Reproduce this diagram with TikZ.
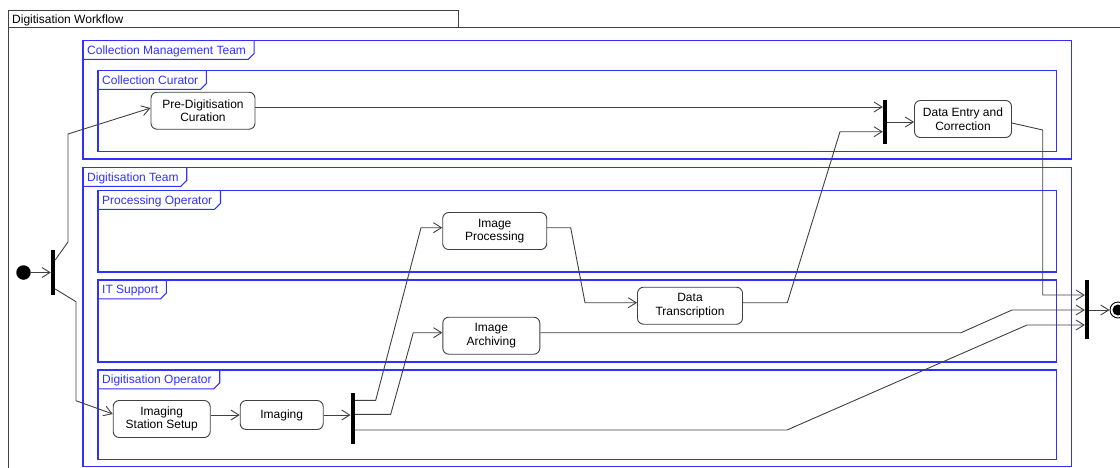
\documentclass[tikz,border=0pt]{standalone}
\usepackage{fontspec}
\setmainfont{Liberation Sans}
\usepackage{tikz}
\usetikzlibrary{arrows.meta}
\definecolor{wflane}{HTML}{3030FF}
\definecolor{wfline}{HTML}{404040}

\begin{document}
\begin{tikzpicture}[x=1pt,y=-1pt,
  every node/.style={font=\fontsize{12}{13.5}\selectfont},
  action/.style={draw=wfline,fill=white,rounded corners=6pt,align=center,minimum height=37pt,inner sep=2pt,line width=0.9pt},
  bar/.style={fill=black,inner sep=0pt,minimum width=4pt},
  flow/.style={draw=wfline,line width=0.9pt,-{Straight Barb[length=8pt,width=10pt]}},
  frame/.style={draw=wfline,line width=0.9pt},
  lane/.style={draw=wflane,line width=1.1pt},
  lanetag/.style={text=wflane,anchor=north west,inner xsep=4pt,inner ysep=0pt,text depth=0pt,minimum height=18.5pt}]
\useasboundingbox (0,0) rectangle (1120,467);
\clip (0,0) rectangle (1120,467);

% outer frame
\draw[frame] (8,10) rectangle (458,27);
\draw[frame] (8,27) -- (8,490) (458,27) -- (1200,27);
\node[anchor=north west,inner xsep=4pt,inner ysep=0pt,text depth=0pt,minimum height=17pt] (wftag) at (8,10) {Digitisation Workflow};

% partitions
\foreach \xa/\ya/\xb/\yb/\lbl [count=\i] in {
    83/40.5/1071.5/159/Collection Management Team,
    98/70.5/1056.5/151.5/Collection Curator,
    83/167.5/1071.5/466.5/Digitisation Team,
    98/190.5/1056.5/272/Processing Operator,
    98/280/1056.5/362/IT Support,
    98/370/1056.5/459.5/Digitisation Operator}{
  \draw[lane] (\xa,\ya) rectangle (\xb,\yb);
  \node[lanetag] (tag\i) at (\xa,\ya) {\lbl};
  \draw[lane] (tag\i.south west) -- ([xshift=-2pt]tag\i.south east)
    -- ([xshift=4pt,yshift=6pt]tag\i.south east) -- ([xshift=4pt]tag\i.north east);
}

% nodes
\node[circle,fill=black,minimum size=14.5pt,inner sep=0pt] (init) at (23.5,272.5) {};
\node[bar,minimum height=45pt] (fork1) at (53,272.5) {};
\node[action,minimum width=104pt] (pdc) at (203,110.7) {Pre-Digitisation\\Curation};
\node[bar,minimum height=44pt] (join1) at (885,122) {};
\node[action,minimum width=97pt] (dec) at (963,119) {Data Entry and\\Correction};
\node[action,minimum width=104pt] (improc) at (494.7,231) {Image\\Processing};
\node[action,minimum width=105pt] (dtrans) at (690,305.7) {Data\\Transcription};
\node[action,minimum width=97pt] (imarch) at (491.3,335.7) {Image\\Archiving};
\node[action,minimum width=97pt] (iss) at (161.7,419) {Imaging\\Station Setup};
\node[action,minimum width=83pt,minimum height=29pt] (imaging) at (281.7,415) {Imaging};
\node[bar,minimum height=51pt] (fork2) at (352.7,418.3) {};
\node[bar,minimum height=59pt] (join2) at (1087,309.5) {};
\node[circle,draw=black,line width=0.9pt,minimum size=16pt,inner sep=0pt] (final) at (1118,310) {};
\fill (final) circle (5.5pt);

% flows
\draw[flow] (init) -- (fork1);
\draw[flow] (fork1.east |- 0,260) -- (68,242) -- (68,134) -- (pdc.west |- 0,108);
\draw[flow] (fork1.east |- 0,289) -- (76,301.7) -- (76,400.7) -- (iss.west |- 0,414);
\draw[flow] (pdc.east |- 0,107) -- (join1.west |- 0,107);
\draw[flow] (join1.east |- 0,122) -- (dec.west |- 0,122);
\draw[flow] (dec.east |- 0,123) -- (1042.7,130) -- (1042.7,295) -- (join2.west |- 0,295);
\draw[flow] (iss.east |- 0,415) -- (imaging.west);
\draw[flow] (imaging.east) -- (fork2.west |- 0,415);
\draw[flow] (fork2.east |- 0,400.3) -- (375.7,400.3) -- (421,227.7) -- (improc.west |- 0,227.7);
\draw[flow] (fork2.east |- 0,414.3) -- (390.7,414.3) -- (413.3,332.7) -- (imarch.west |- 0,332.7);
\draw[flow] (fork2.east |- 0,430) -- (787,430) -- (1027,325) -- (join2.west |- 0,325);
\draw[flow] (improc.east |- 0,227.7) -- (570.7,227.7) -- (585,302.7) -- (dtrans.west |- 0,302.7);
\draw[flow] (dtrans.east |- 0,302.7) -- (787.3,302.7) -- (840,131.7) -- (join1.west |- 0,131.7);
\draw[flow] (imarch.east |- 0,332.7) -- (961,332.7) -- (1012,310) -- (join2.west |- 0,310);
\draw[flow] (join2.east |- 0,310) -- (final);
\end{tikzpicture}
\end{document}
